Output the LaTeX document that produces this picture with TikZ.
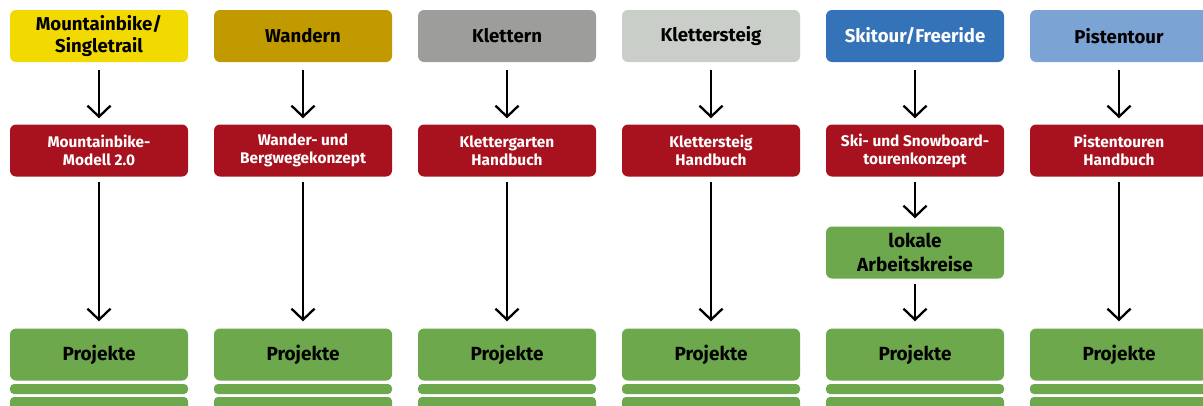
\documentclass[tikz,border=0pt]{standalone}
\usepackage{fontspec}
\setmainfont{Fira Sans}
\usetikzlibrary{arrows.meta}
\definecolor{cyellow}{HTML}{F2D900}
\definecolor{cwandern}{HTML}{C19A00}
\definecolor{cklettern}{HTML}{9D9E9C}
\definecolor{csteig}{HTML}{C9CEC8}
\definecolor{cski}{HTML}{3473B7}
\definecolor{cpiste}{HTML}{7BA3D3}
\definecolor{cred}{HTML}{A8111E}
\definecolor{cgreen}{HTML}{6DA94C}
\tikzset{
  box/.style={rectangle, rounded corners=6pt, minimum width=178pt, minimum height=52pt, inner sep=0pt, align=center, draw=none},
  topbox/.style={box, font=\bfseries\fontsize{18.6}{22}\selectfont, text=black},
  redbox/.style={box, fill=cred, text=white, font=\bfseries\fontsize{15.4}{18}\selectfont},
  greenbox/.style={box, fill=cgreen, text=black, font=\bfseries\fontsize{19}{24}\selectfont},
  stripe/.style={fill=cgreen, rounded corners=4pt},
  arr/.style={line width=2.3pt, -{Straight Barb[length=11pt, width=23pt, line width=2.3pt]}}
}
\begin{document}
\begin{tikzpicture}[x=1pt, y=-1pt]
\useasboundingbox (0,0) rectangle (1203,405);
\fill[white] (0,0) rectangle (1203,405);
\clip (0,0) rectangle (1203,405);
% columns
\foreach \i/\xc/\col/\tcol/\toptext/\redtext in {
  1/99/cyellow/black/{Mountainbike/\\Singletrail}/{Mountainbike-\\Modell 2.0},
  2/303/cwandern/black/{Wandern}/{Wander- und\\Bergwegekonzept},
  3/507/cklettern/black/{Klettern}/{Klettergarten\\Handbuch},
  4/711/csteig/black/{Klettersteig}/{Klettersteig\\Handbuch},
  5/915/cski/white/{Skitour/Freeride}/{Ski- und Snowboard-\\tourenkonzept},
  6/1119/cpiste/black/{Pistentour}/{Pistentouren\\Handbuch}}{
  \node[topbox, fill=\col, text=\tcol] (t\i) at (\xc,36) {\toptext};
  \node[redbox] (r\i) at (\xc,150.5) {\redtext};
  \node[greenbox] (p\i) at (\xc,354.5) {Projekte};
  \fill[stripe] (\xc-89,384) rectangle (\xc+89,394);
  \fill[stripe] (\xc-89,397) rectangle (\xc+89,410);
  \draw[arr] ([yshift=-8pt]t\i.south) -- ([yshift=6pt]r\i.north);
}
\node[greenbox] (l5) at (915,252.5) {lokale\\Arbeitskreise};
\foreach \i in {1,2,3,4,6}{
  \draw[arr] ([yshift=-5pt]r\i.south) -- ([yshift=7pt]p\i.north);
}
\draw[arr] ([yshift=-5pt]r5.south) -- ([yshift=8pt]l5.north);
\draw[arr] ([yshift=-5pt]l5.south) -- ([yshift=7pt]p5.north);
\end{tikzpicture}
\end{document}
